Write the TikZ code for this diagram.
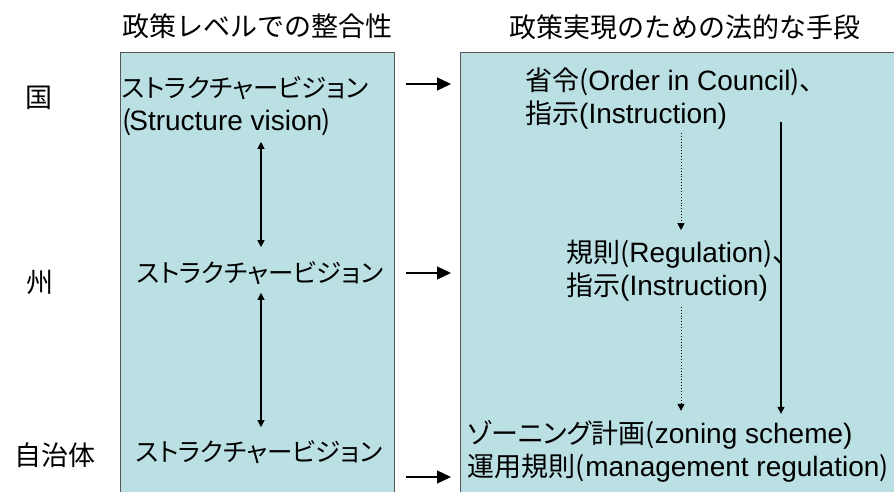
\documentclass[tikz,border=0pt]{standalone}
\usepackage{fontspec}
\setmainfont{Liberation Sans}
\newfontfamily\jpfont[RawFeature=+palt, Scale=0.964]{Noto Sans CJK JP}
\newfontfamily\jpkata[RawFeature=+palt, Scale=0.91]{Noto Sans CJK JP}
\newfontfamily\jpfull{Noto Sans CJK JP}
\newcommand\J[1]{{\jpfont #1}}
\newcommand\Jk[1]{{\jpkata #1}}
\newcommand\K[1]{{\jpfull #1}}
\usetikzlibrary{arrows.meta}
\definecolor{boxfill}{HTML}{BBE0E3}
\definecolor{boxline}{HTML}{555555}
\tikzset{
  panel/.style={draw=boxline, line width=1pt, fill=boxfill, inner sep=0pt, minimum width=0pt},
  txt/.style={inner sep=0pt, align=left, font=\fontsize{28}{33}\selectfont},
  hdr/.style={inner sep=0pt, font=\fontsize{27}{33}\selectfont},
  bigarrow/.style={line width=1.2pt, -{Triangle[length=14pt, width=13pt]}},
  dblarrow/.style={line width=1.2pt, {Triangle[length=7pt, width=7pt]}-{Triangle[length=7pt, width=7pt]}},
  dotarrow/.style={line width=0.9pt, dotted, -{Triangle[length=7pt, width=7pt]}},
  solarrow/.style={line width=1.2pt, -{Triangle[length=7pt, width=7pt]}},
}
\begin{document}
\begin{tikzpicture}[x=1pt, y=-1pt]
\clip (0,0) rectangle (894,492);
\fill[white] (0,0) rectangle (894,492);
% panels
\node[panel, minimum width=274pt, minimum height=460pt, anchor=north west] (lbox) at (120,52) {};
\node[panel, minimum width=450pt, minimum height=460pt, anchor=north west] (rbox) at (460,52) {};
% headers
\node[hdr] (h1) at (257,26) {\K{政策レベルでの整合性}};
\node[hdr] (h2) at (685,27) {\K{政策実現のための法的な手段}};
% level labels
\node[hdr] (l1) at (39,98) {\K{国}};
\node[hdr] (l2) at (40,282) {\K{州}};
\node[hdr] (l3) at (55,455) {\K{自治体}};
% left texts
\node[txt, anchor=west] (sv1) at (122,106) {\Jk{ストラクチャービジョン}\\\J{(}\kern-2pt Structure vision\kern-1pt\J{)}};
\node[txt] (sv2) at (260,273) {\Jk{ストラクチャービジョン}};
\node[txt] (sv3) at (259,452) {\Jk{ストラクチャービジョン}};
% right texts
\node[txt, anchor=west] (r1) at (525,99) {\J{省令(}Order in Council\J{)、}\\\J{指示}(Instruction)};
\node[txt, anchor=west] (r2) at (566,271) {\J{規則(}Regulation\J{)、}\\\J{指示}(Instruction)};
\node[txt, anchor=west] (r3) at (467,451) {\J{ゾーニング計画(}zoning scheme)\\\J{運用規則(}\kern1pt management regulation\J{)}};
% helper positions
\coordinate (cx) at (681,0);
\coordinate (sx) at (781,0);
\coordinate (vx) at (261,0);
\coordinate (a1) at (0,84);
\coordinate (a2) at (0,273);
\coordinate (a3) at (0,477);
% horizontal arrows
\draw[bigarrow] ([xshift=11pt]lbox.east |- a1) -- ([xshift=-9pt]rbox.west |- a1);
\draw[bigarrow] ([xshift=11pt]lbox.east |- a2) -- ([xshift=-9pt]rbox.west |- a2);
\draw[bigarrow] ([xshift=11pt]lbox.east |- a3) -- ([xshift=-9pt]rbox.west |- a3);
% left double arrows
\draw[dblarrow] ([yshift=-6pt]sv1.south -| vx) -- ([yshift=14pt]sv2.north -| vx);
\draw[dblarrow] ([yshift=-8pt]sv2.south -| vx) -- ([yshift=13pt]sv3.north -| vx);
% right arrows
\draw[dotarrow] ([yshift=-3pt]r1.south -| cx) -- ([yshift=10pt]r2.north -| cx);
\draw[dotarrow] ([yshift=-5pt]r2.south -| cx) -- ([yshift=9pt]r3.north -| cx);
\draw[solarrow] ([yshift=8pt]r1.south -| sx) -- ([yshift=6pt]r3.north -| sx);
\end{tikzpicture}
\end{document}
